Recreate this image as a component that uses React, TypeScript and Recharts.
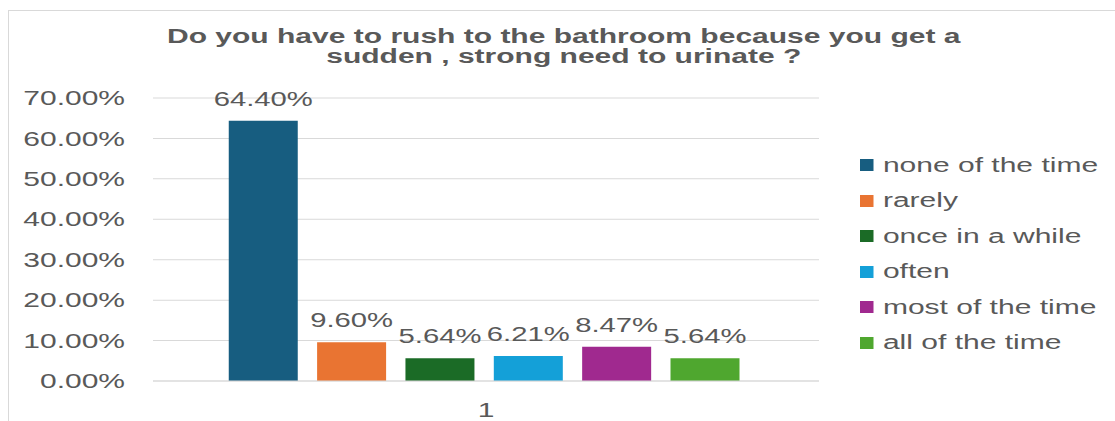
import React from "react";
import { BarChart, Bar, XAxis, YAxis, CartesianGrid, LabelList, Legend } from "recharts";

const categories = ["1"];
const seriesKeys = ["none", "rarely", "once", "often", "most", "all"];
const seriesNames = [
  "none of the time",
  "rarely",
  "once in a while",
  "often",
  "most of the time",
  "all of the time",
];
const seriesValues = [0.644, 0.096, 0.0564, 0.0621, 0.0847, 0.0564];
const seriesColors = ["#175d80", "#e97432", "#1b6b26", "#14a0d8", "#a0298f", "#4fa72f"];
const yTicks = [0, 0.1, 0.2, 0.3, 0.4, 0.5, 0.6, 0.7];
const titleLines = [
  "Do you have to rush to the bathroom because you get a",
  "sudden , strong need to urinate ?",
];

const data = categories.map((name) => {
  const row: Record<string, any> = { name };
  seriesKeys.forEach((k, i) => {
    row[k] = seriesValues[i];
  });
  return row;
});

const W = 1107;
const H = 413;
const S = 1.5;
const CW = W / S;
const FONT = "'Liberation Sans', Arial, Helvetica, sans-serif";
const TXT = "#595959";

const pct = (v: any) => (Number(v) * 100).toFixed(2) + "%";

const LegendContent = () => (
  <div style={{ fontFamily: FONT, fontSize: 20, color: TXT }}>
    {seriesNames.map((n, i) => (
      <div key={n} style={{ height: 35.5, display: "flex", alignItems: "center", whiteSpace: "nowrap" }}>
        <span
          style={{
            display: "inline-block",
            width: 8.7,
            height: 12,
            background: seriesColors[i],
            marginRight: 6.6,
          }}
        />
        <span>{n}</span>
      </div>
    ))}
  </div>
);

export default function App() {
  return (
    <div
      style={{
        position: "fixed",
        left: 0,
        top: 0,
        width: 1115,
        height: 421,
        overflow: "hidden",
        background: "#fff",
      }}
    >
      <div style={{ position: "absolute", left: 8, top: 8, width: W, height: H }}>
        <div
          style={{
            position: "absolute",
            left: 0,
            top: 2,
            width: W + 20,
            height: H + 20,
            border: "1px solid #d9d9d9",
            boxSizing: "border-box",
          }}
        />
        <div
          style={{
            position: "absolute",
            left: 0,
            top: 0,
            width: CW,
            height: H,
            transform: `scaleX(${S})`,
            transformOrigin: "0 0",
          }}
        >
          <div
            style={{
              position: "absolute",
              left: 0,
              top: 18.1,
              width: 741,
              textAlign: "center",
              fontFamily: FONT,
              fontWeight: "bold",
              fontSize: 20,
              lineHeight: "20px",
              color: TXT,
              whiteSpace: "nowrap",
            }}
          >
            {titleLines[0]}
            <br />
            {titleLines[1]}
          </div>
          <BarChart
            width={CW}
            height={H}
            data={data}
            margin={{ top: 90, right: CW - 540.67, left: 0, bottom: 8 }}
            barCategoryGap={50.5}
            barGap={12.9}
            style={{ fontFamily: FONT }}
          >
            <CartesianGrid vertical={false} stroke="#d9d9d9" />
            <XAxis
              dataKey="name"
              tickLine={false}
              axisLine={{ stroke: "#d9d9d9" }}
              height={32}
              tickMargin={16}
              tick={{ fontSize: 20, fill: TXT, fontFamily: FONT }}
            />
            <YAxis
              domain={[0, 0.7]}
              ticks={yTicks}
              tickFormatter={pct}
              width={96.67}
              tickLine={false}
              axisLine={false}
              tickMargin={12.67}
              tick={{ fontSize: 20, fill: TXT, fontFamily: FONT }}
            />
            <Legend
              layout="horizontal"
              verticalAlign="middle"
              align="center"
              content={<LegendContent />}
              wrapperStyle={{ position: "absolute", left: 568, top: 139.5, width: 160, height: 220 }}
            />
            {seriesKeys.map((k, i) => (
              <Bar key={k} dataKey={k} name={seriesNames[i]} fill={seriesColors[i]} isAnimationActive={false}>
                <LabelList
                  dataKey={k}
                  position="top"
                  offset={15}
                  formatter={pct}
                  style={{ fontSize: 19.5, fill: TXT, fontFamily: FONT }}
                />
              </Bar>
            ))}
          </BarChart>
        </div>
      </div>
    </div>
  );
}
